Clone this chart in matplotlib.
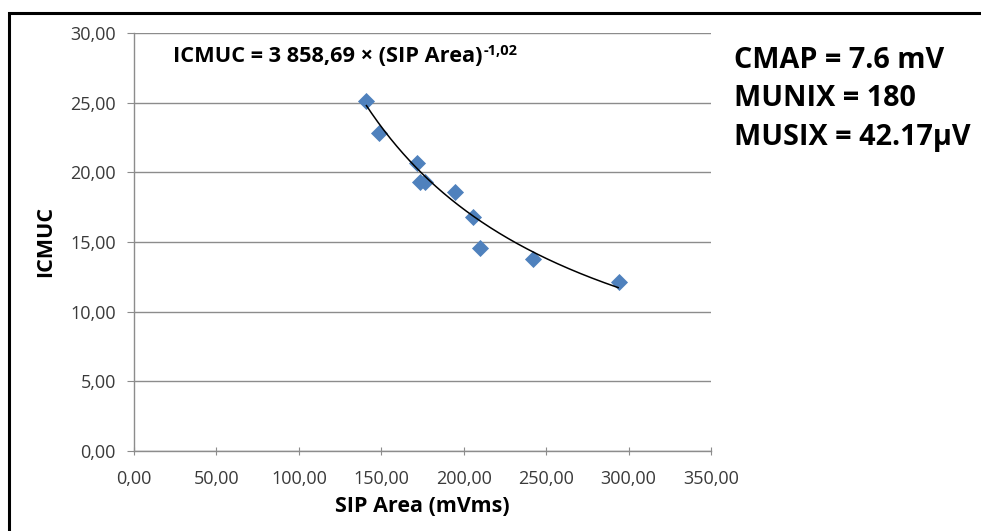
import numpy as np
import matplotlib
matplotlib.use("Agg")
import matplotlib.pyplot as plt
from matplotlib.patches import Rectangle
from matplotlib.ticker import FuncFormatter, MultipleLocator

# values
sipArea = [141.0, 148.8, 171.4, 173.4, 176.5, 194.7, 205.8, 209.8, 242.2, 294.3]
icmuc = [25.1, 22.8, 20.7, 19.3, 19.3, 18.6, 16.8, 14.6, 13.75, 12.1]

# power trendline shown on the chart
fitCoef = 3858.69
fitExp = -1.02

infoLines = ["CMAP = 7.6 mV", "MUNIX = 180", "MUSIX = 42.17\u00b5V"]

plt.rcParams['font.family'] = ['Open Sans', 'DejaVu Sans']

W, H = 981, 531
fig = plt.figure(figsize=(W / 100, H / 100), dpi=100)
# plot area in pixels: x 134..711, y 33..451
ax = fig.add_axes([134 / W, 1 - 451 / H, (711 - 134) / W, (451 - 33) / H])

# outer frame like the pasted Excel chart
frame = Rectangle((9 / W, -0.05), 1.2, 1 - 13 / H + 0.05, transform=fig.transFigure,
                  fill=False, edgecolor='black', linewidth=2.2, clip_on=False)
fig.patches.append(frame)

ax.scatter(sipArea, icmuc, marker='D', s=8.7 ** 2, color='#4F81BD', zorder=3, linewidths=0)

xs = np.linspace(min(sipArea), 293.7, 200)
ax.plot(xs, fitCoef * xs ** fitExp, color='black', linewidth=1.1, zorder=4)

ax.set_xlim(0, 350)
ax.set_ylim(0, 30)
ax.xaxis.set_major_locator(MultipleLocator(50))
ax.yaxis.set_major_locator(MultipleLocator(5))
commaFmt = FuncFormatter(lambda v, p: ('%.2f' % v).replace('.', ','))
ax.xaxis.set_major_formatter(commaFmt)
ax.yaxis.set_major_formatter(commaFmt)

ax.grid(axis='y', color='#8c8c8c', linewidth=1.0)
ax.set_axisbelow(True)
for side in ['top', 'right']:
    ax.spines[side].set_visible(False)
for side in ['left', 'bottom']:
    ax.spines[side].set_color('#8c8c8c')
    ax.spines[side].set_linewidth(1.0)
ax.tick_params(axis='y', direction='out', length=5, color='#8c8c8c', labelsize=13,
               labelcolor='#3a3a3a', pad=8)
ax.tick_params(axis='x', direction='inout', length=6, color='#8c8c8c', labelsize=13,
               labelcolor='#3a3a3a', pad=10.5)

ax.set_xlabel('SIP Area (mVms)', fontsize=15.5, fontweight='bold')
ax.xaxis.set_label_coords(0.5, (451 - 507) / (451 - 33))
ax.xaxis.label.set_va('center')
ax.set_ylabel('ICMUC', fontsize=15.5, fontweight='bold')
ax.yaxis.set_label_coords((46 - 134) / (711 - 134), (451 - 241) / (451 - 33))
ax.yaxis.label.set_va('center')

eq = fig.text(173 / W, 1 - 62 / H, 'ICMUC = 3 858,69 \u00d7 (SIP Area)',
              fontsize=15.7, fontweight='bold', va='baseline', ha='left')
ax.annotate('-1,02', xy=(1, 1), xycoords=eq, xytext=(0.5, 1.5), textcoords='offset points',
            fontsize=10.5, fontweight='bold', va='top', ha='left', annotation_clip=False)

for i, line in enumerate(infoLines):
    fig.text(734 / W, 1 - (68 + 38.5 * i) / H, line, fontsize=20.7, fontweight='bold',
             va='baseline', ha='left')

fig.savefig('out.png', dpi=100)
